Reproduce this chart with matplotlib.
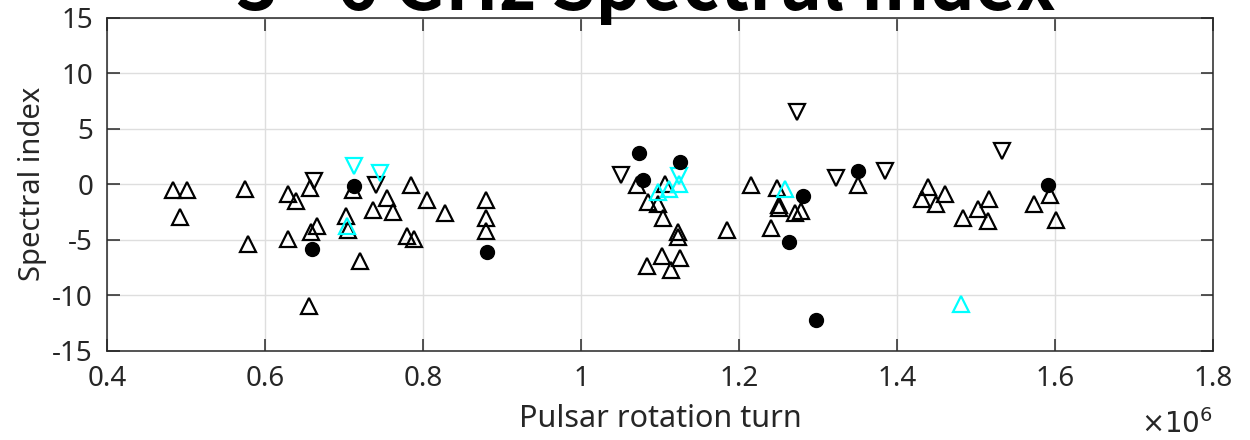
import matplotlib
matplotlib.use("Agg")
import matplotlib.pyplot as plt
from matplotlib.ticker import FuncFormatter, MultipleLocator

plt.rcParams["font.family"] = ["Noto Sans", "DejaVu Sans"]
plt.rcParams["axes.unicode_minus"] = False

# turn number of each observation and its 3-6 GHz spectral index
up_turn = [484e3, 501e3, 492e3, 575e3, 578e3, 629e3, 639e3, 629e3, 657e3, 666e3,
           658e3, 656e3, 711e3, 702e3, 705e3, 720e3, 754e3, 737e3, 762e3, 785e3,
           805e3, 828e3, 780e3, 788e3, 880e3, 880e3, 880e3,
           1071e3, 1106e3, 1085e3, 1098e3, 1104e3, 1123e3, 1123e3, 1102e3, 1125e3,
           1084e3, 1114e3, 1215e3, 1248e3, 1250e3, 1251e3, 1271e3, 1278e3, 1185e3,
           1241e3, 1350e3,
           1439e3, 1432e3, 1461e3, 1449e3, 1484e3, 1503e3, 1516e3, 1515e3, 1574e3,
           1594e3, 1601e3]
up_index = [-0.54, -0.48, -2.95, -0.45, -5.40, -0.84, -1.53, -4.89, -0.33, -3.76,
            -4.30, -10.99, -0.54, -2.88, -4.08, -6.94, -1.23, -2.28, -2.50, -0.03,
            -1.44, -2.59, -4.68, -4.89, -1.38, -3.08, -4.21,
            -0.03, 0.06, -1.58, -1.74, -3.04, -4.30, -4.75, -6.49, -6.60,
            -7.39, -7.68, -0.09, -0.30, -1.83, -2.10, -2.59, -2.41, -4.14,
            -3.94, -0.09,
            -0.24, -1.29, -0.84, -1.80, -3.00, -2.19, -1.29, -3.33, -1.80,
            -0.99, -3.18]

down_turn = [662e3, 741e3, 1051e3, 1273e3, 1323e3, 1385e3, 1533e3]
down_index = [0.30, -0.09, 0.81, 6.51, 0.57, 1.17, 3.00]

dot_turn = [660e3, 713e3, 881e3, 1073e3, 1125e3, 1078e3, 1281e3, 1263e3, 1297e3,
            1350e3, 1591e3]
dot_index = [-5.79, -0.18, -6.10, 2.77, 2.01, 0.42, -1.08, -5.20, -12.19, 1.17, -0.09]

cyan_up_turn = [704e3, 1097e3, 1111e3, 1124e3, 1258e3, 1481e3]
cyan_up_index = [-3.76, -0.69, -0.39, 0.06, -0.39, -10.75]

cyan_down_turn = [713e3, 745e3, 1124e3]
cyan_down_index = [1.65, 1.04, 0.72]

fig = plt.figure(figsize=(12.5, 4.4), dpi=100)
ax = fig.add_axes([0.0856, 0.2023, 0.8848, 0.7579])

ms = 11.5
ax.plot(up_turn, up_index, "^", ms=ms, mfc="none", mec="black", mew=1.6)
ax.plot(down_turn, down_index, "v", ms=ms, mfc="none", mec="black", mew=1.6)
ax.plot(cyan_up_turn, cyan_up_index, "^", ms=ms, mfc="none", mec="#00ffff", mew=1.6)
ax.plot(cyan_down_turn, cyan_down_index, "v", ms=ms, mfc="none", mec="#00ffff", mew=1.6)
ax.plot(dot_turn, dot_index, "o", ms=10, mfc="black", mec="black")

ax.set_xlim(0.4e6, 1.8e6)
ax.set_ylim(-15, 15)
ax.xaxis.set_major_locator(MultipleLocator(0.2e6))
ax.yaxis.set_major_locator(MultipleLocator(5))
ax.xaxis.set_major_formatter(FuncFormatter(lambda v, p: "%g" % round(v / 1e6, 3)))
ax.yaxis.set_major_formatter(FuncFormatter(lambda v, p: "%g" % v))

ax.grid(True, color="#dedede", linewidth=1.0)
ax.set_axisbelow(True)
for s in ax.spines.values():
    s.set_color("#262626")
    s.set_linewidth(1.1)
ax.tick_params(direction="in", length=9, width=1.1, color="#262626",
               top=True, right=True, labelsize=20, labelcolor="#262626", pad=10)

ax.set_xlabel("Pulsar rotation turn", fontsize=22, color="#262626", labelpad=8)
ax.set_ylabel("Spectral index", fontsize=21, color="#262626", labelpad=4)
fig.text(0.9704, 0.0, r"$\times10^{6}$", ha="right", va="bottom",
         fontsize=20, color="#262626")

fig.text(0.517, 0.978, "3 - 6 GHz Spectral Index", ha="center", va="baseline",
         fontsize=51, fontweight="bold", color="black",
         family=["Noto Sans CJK JP", "DejaVu Sans"])

fig.savefig("out.png", dpi=100)
